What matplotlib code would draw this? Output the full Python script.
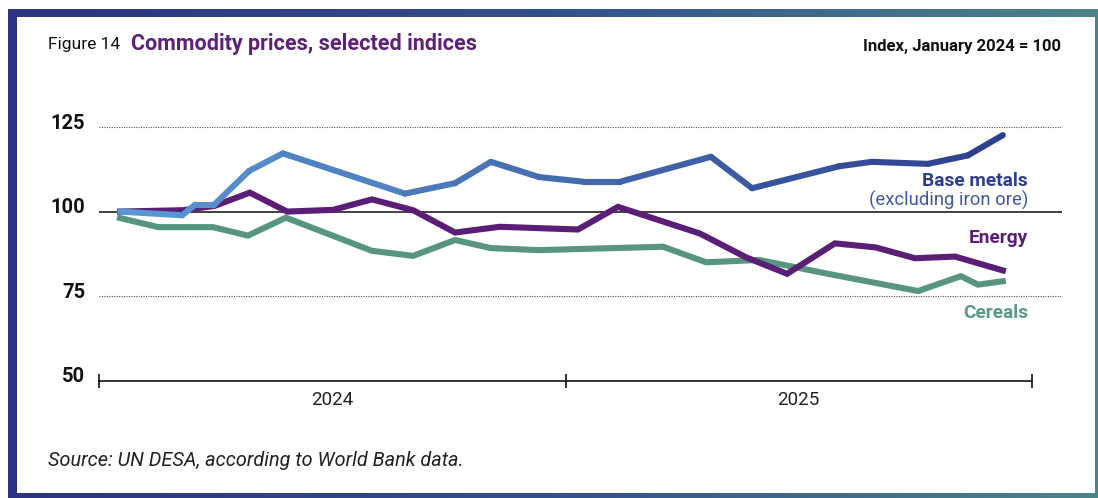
import numpy as np
import matplotlib
matplotlib.use("Agg")
import matplotlib.pyplot as plt
from matplotlib.collections import LineCollection
from matplotlib.colors import LinearSegmentedColormap, to_rgb
from matplotlib.patches import Rectangle
from matplotlib.transforms import ScaledTranslation

plt.rcParams['font.family'] = ['Roboto', 'DejaVu Sans']

# months since 1 January 2024, index (January 2024 = 100)
metals_month = [0.54, 2.14, 2.47, 2.96, 3.86, 4.73, 7.87, 9.16, 10.08, 11.32,
                12.48, 13.40, 15.74, 16.80, 19.04, 19.88, 21.32, 22.35, 23.25]
metals_index = [100.0, 98.9, 102.0, 102.0, 112.0, 117.2, 105.3, 108.4, 114.7, 110.2,
                108.8, 108.8, 116.2, 106.9, 113.4, 114.7, 114.1, 116.6, 122.6]

energy_month = [0.54, 2.16, 2.98, 3.88, 4.84, 6.02, 7.02, 8.08, 9.16, 10.31,
                12.32, 13.35, 15.46, 16.64, 17.70, 18.93, 19.98, 20.99, 22.02, 23.25]
energy_index = [100.0, 100.4, 101.7, 105.6, 100.0, 100.5, 103.6, 100.4, 93.8, 95.5,
                94.7, 101.4, 93.5, 86.5, 81.6, 90.6, 89.4, 86.2, 86.7, 82.6]

cereals_month = [0.54, 1.52, 2.93, 3.83, 4.81, 7.02, 8.08, 9.16, 10.08, 11.32,
                 14.51, 15.62, 16.98, 18.75, 21.07, 22.17, 22.61, 23.25]
cereals_index = [98.1, 95.4, 95.4, 92.9, 98.2, 88.4, 86.9, 91.6, 89.2, 88.6,
                 89.6, 85.0, 85.7, 81.6, 76.5, 80.9, 78.4, 79.4]

y_ticks = [50, 75, 100, 125]
year_labels = ['2024', '2025']

W, H = 1098, 498
fig = plt.figure(figsize=(W / 100, H / 100), dpi=100)

# gradient frame behind everything
bg = fig.add_axes([0, 0, 1, 1], zorder=0)
bg.set_xlim(0, W)
bg.set_ylim(H, 0)
bg.axis('off')
frame_cmap = LinearSegmentedColormap.from_list('frame', ['#2d3282', '#33508e', '#4b8489'])
bg.imshow(np.linspace(0, 1, 256)[None, :], cmap=frame_cmap, aspect='auto',
          extent=(8, W, H, 9), interpolation='bilinear')
bg.add_patch(Rectangle((17, 17), 1095 - 17, 493 - 17, facecolor='white', edgecolor='none'))

# plot area: 99..1062 px wide, y=50 at 380.7 px, y=125 at 127 px
px_per_month = 38.875
ax = fig.add_axes([99 / W, 1 - 380.7 / H, (1062 - 99) / W, (380.7 - 127.0) / H], zorder=1)
ax.patch.set_alpha(0)
ax.set_xlim(0, (1062 - 99) / px_per_month)
ax.set_ylim(50, 125)

for s in ['top', 'right', 'left']:
    ax.spines[s].set_visible(False)
ax.spines['bottom'].set_bounds(0, 24)
ax.spines['bottom'].set_linewidth(1.2)
ax.spines['bottom'].set_color('#111111')

ax.set_xticks([0, 12, 24])
ax.set_xticklabels([])
ax.tick_params(axis='x', direction='inout', length=10, width=1.2, color='#111111')
for i, lab in enumerate(year_labels):
    ax.text(6 + 12 * i, -0.077, lab, transform=ax.get_xaxis_transform(),
            ha='center', va='center', fontsize=13.5, color='#222222')

ax.set_yticks(y_ticks)
ax.set_yticklabels([str(v) for v in y_ticks], fontsize=14.5, fontweight='bold', color='#111111')
ax.tick_params(axis='y', length=0, pad=10)
up = ScaledTranslation(0, 6 / 100, fig.dpi_scale_trans)
for lab in ax.get_yticklabels():
    lab.set_transform(lab.get_transform() + up)

for v in [75, 125]:
    ax.axhline(v, color='#555555', lw=0.8, ls=(0, (1, 1.2)), zorder=1)
ax.axhline(100, color='#333333', lw=1.3, zorder=1)

lw = 4.4
ax.plot(cereals_month, cereals_index, color='#58957f', lw=lw,
        solid_joinstyle='miter', zorder=3, clip_on=False)
ax.plot(energy_month, energy_index, color='#5a1e76', lw=lw,
        solid_joinstyle='miter', zorder=4, clip_on=False)

# base metals: colour shifts from light blue to navy over time
pts = np.column_stack([metals_month, metals_index])
segs = np.stack([pts[:-1], pts[1:]], axis=1)
c0, c1 = np.array(to_rgb('#5c9cd6')), np.array(to_rgb('#2c3a8a'))
mid = (pts[:-1, 0] + pts[1:, 0]) / 2 / 24
seg_colors = [tuple(c0 + (c1 - c0) * t) for t in mid]
lc = LineCollection(segs, colors=seg_colors, linewidths=lw, capstyle='round',
                    joinstyle='round', zorder=5, clip_on=False)
ax.add_collection(lc)

lx = (1028 - 99) / px_per_month
ax.text(lx, 109.0, 'Base metals', ha='right', va='center', fontsize=13.8,
        fontweight='bold', color='#2e3e8e')
ax.text(lx, 103.4, '(excluding iron ore)', ha='right', va='center', fontsize=13.3,
        color='#4158a6')
ax.text(lx, 92.3, 'Energy', ha='right', va='center', fontsize=13.8,
        fontweight='bold', color='#5a1e76')
ax.text(lx, 69.9, 'Cereals', ha='right', va='center', fontsize=13.8,
        fontweight='bold', color='#5a9a86')

# header and source
fig.text(48 / W, 1 - 44 / H, 'Figure 14', ha='left', va='center', fontsize=12.5,
         color='#111111')
fig.text(131 / W, 1 - 44 / H, 'Commodity prices, selected indices', ha='left', va='center',
         fontsize=15.5, fontweight='bold', color='#5e2079')
fig.text(1061 / W, 1 - 46 / H, 'Index, January 2024 = 100', ha='right', va='center',
         fontsize=12, fontweight='bold', color='#111111')
fig.text(48 / W, 1 - 460 / H, 'Source: UN DESA, according to World Bank data.', ha='left',
         va='center', fontsize=14.3, fontstyle='italic', color='#222222')

fig.savefig('out.png', dpi=100)
